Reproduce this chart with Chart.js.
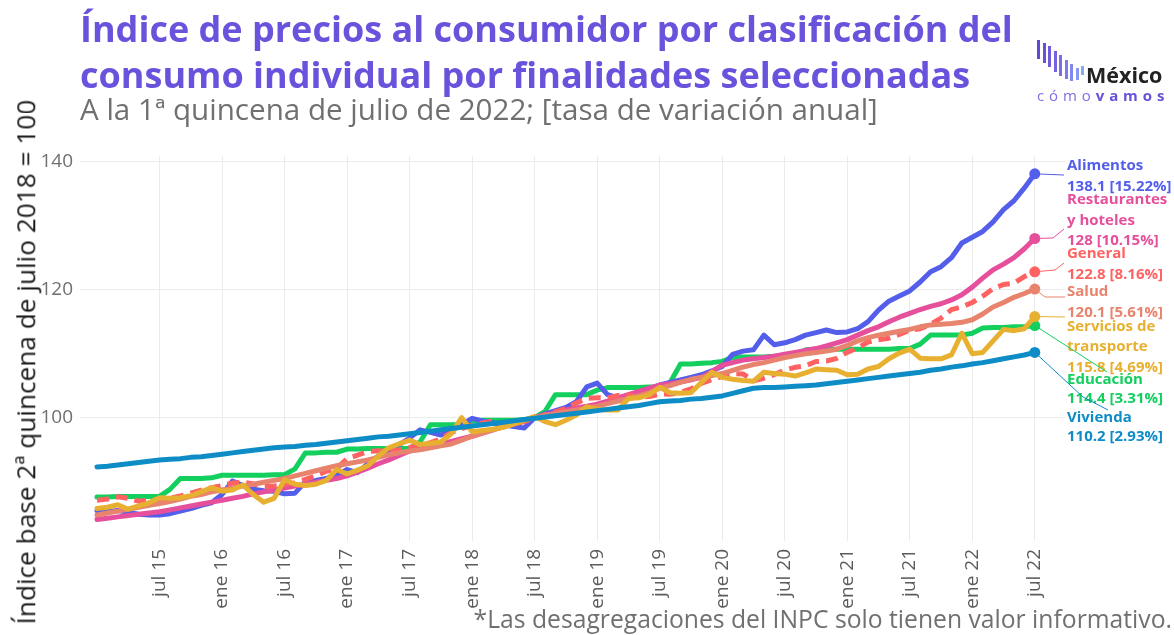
<!DOCTYPE html>
<html><head><meta charset="utf-8">
<script src="https://cdn.jsdelivr.net/npm/chart.js@4.4.1/dist/chart.umd.min.js"></script>
<style>
html,body{margin:0;padding:0;background:#fff;}
#wrap{position:relative;width:1174px;height:635px;overflow:hidden;font-family:"Open Sans",sans-serif;}
#c{position:absolute;left:0;top:0;}
.t{position:absolute;white-space:nowrap;line-height:1;}
.bar{position:absolute;width:3px;}
</style></head>
<body>
<div id="wrap">
<canvas id="c" width="1174" height="635"></canvas>
<div class="t" id="t1" style="color:#6953dc;font-weight:700;left:80px;">Índice de precios al consumidor por clasificación del</div>
<div class="t" id="t2" style="color:#6953dc;font-weight:700;left:80px;">consumo individual por finalidades seleccionadas</div>
<div class="t" id="sub" style="color:#707070;left:80px;">A la 1ª quincena de julio de 2022; [tasa de variación anual]</div>
<div class="t" id="foot" style="color:#707070;">*Las desagregaciones del INPC solo tienen valor informativo.</div>
<div class="t" id="ytitle" style="color:#1a1a1a;transform-origin:50% 50%;">Índice base 2ª quincena de julio 2018 = 100</div>
<div id="logo"></div>
<div class="t" id="mx" style="color:#222;font-weight:700;font-size:21.5px;left:1086px;top:64px;">México</div>
<div class="t" id="cv" style="font-size:15px;left:1037px;top:88px;letter-spacing:4.9px;"><span style="color:#7d70e0;">cómo</span><span style="color:#6a50d8;font-weight:700;">vamos</span></div>
</div>
<script>
// ---------- categories ----------
const months = [
 "ene 15","feb 15","mar 15","abr 15","may 15","jun 15","jul 15","ago 15","sep 15","oct 15","nov 15","dic 15",
 "ene 16","feb 16","mar 16","abr 16","may 16","jun 16","jul 16","ago 16","sep 16","oct 16","nov 16","dic 16",
 "ene 17","feb 17","mar 17","abr 17","may 17","jun 17","jul 17","ago 17","sep 17","oct 17","nov 17","dic 17",
 "ene 18","feb 18","mar 18","abr 18","may 18","jun 18","jul 18","ago 18","sep 18","oct 18","nov 18","dic 18",
 "ene 19","feb 19","mar 19","abr 19","may 19","jun 19","jul 19","ago 19","sep 19","oct 19","nov 19","dic 19",
 "ene 20","feb 20","mar 20","abr 20","may 20","jun 20","jul 20","ago 20","sep 20","oct 20","nov 20","dic 20",
 "ene 21","feb 21","mar 21","abr 21","may 21","jun 21","jul 21","ago 21","sep 21","oct 21","nov 21","dic 21",
 "ene 22","feb 22","mar 22","abr 22","may 22","jun 22","jul 22"];
const tickLabels = ["jul 15","ene 16","jul 16","ene 17","jul 17","ene 18","jul 18","ene 19","jul 19","ene 20","jul 20","ene 21","jul 21","ene 22","jul 22"];
const yTicks = [100,120,140];

// ---------- series ----------
const alimentos = [
 85.5,85.3,85.5,85.2,84.9,84.8,84.8,85.0,85.4,85.8,86.3,86.7,
 88.0,90.1,89.4,88.8,88.6,88.5,88.1,88.2,90.0,90.2,90.5,91.0,
 91.9,91.4,92.8,94.0,95.0,95.8,96.8,98.1,97.7,97.3,98.0,98.9,
 99.9,99.5,99.2,98.9,98.6,98.4,100.0,100.6,101.1,101.6,102.5,104.8,
 105.4,103.6,103.1,103.4,103.9,104.5,105.1,105.5,105.9,106.3,106.7,107.3,
 108.0,109.9,110.4,110.6,112.9,111.4,111.7,112.2,112.9,113.3,113.7,113.3,
 113.4,113.9,115.0,116.8,118.2,119.0,119.8,121.2,122.8,123.6,125.0,127.3,
 128.2,129.1,130.6,132.5,133.9,135.9,138.1];
const restaurantes = [
 84.1,84.3,84.5,84.7,84.9,85.1,85.3,85.6,85.9,86.2,86.5,86.8,
 87.1,87.4,87.7,88.1,88.4,88.7,89.0,89.3,89.6,89.9,90.2,90.5,
 90.9,91.5,92.1,92.8,93.4,94.1,94.8,95.2,95.6,95.9,96.3,96.7,
 97.1,97.6,98.1,98.6,99.1,99.5,100.0,100.4,100.8,101.2,101.5,101.8,
 102.1,102.6,103.1,103.6,104.1,104.6,105.1,105.3,105.6,105.9,106.3,107.2,
 108.2,108.6,109.0,109.2,109.4,109.6,109.9,110.2,110.5,110.8,111.2,111.7,
 112.2,112.9,113.6,114.2,115.0,115.7,116.3,116.9,117.4,117.8,118.4,119.2,
 120.4,121.8,123.1,124.0,125.0,126.4,128.0];
const general = [
 87.11,87.28,87.63,87.40,86.96,87.11,87.24,87.42,87.76,88.20,88.68,89.05,
 89.39,89.78,89.91,89.63,89.23,89.32,89.56,89.81,90.36,90.91,91.62,92.04,
 93.60,94.14,94.72,94.84,94.73,94.96,95.32,95.79,96.09,96.70,97.70,98.27,
 98.80,99.17,99.49,99.15,98.99,99.38,99.91,100.49,100.92,101.44,102.30,103.02,
 103.11,103.08,103.48,103.53,103.23,103.30,103.69,103.67,103.94,104.50,105.35,105.93,
 106.45,106.89,106.84,105.76,106.16,106.74,107.44,107.87,108.11,108.77,108.86,109.27,
 110.21,110.91,111.82,112.19,112.42,113.02,113.68,113.90,114.60,115.56,116.88,117.31,
 118.00,118.98,120.16,120.81,121.02,122.04,122.8];
const salud = [
 84.8,85.1,85.4,85.7,86.0,86.3,86.6,86.9,87.3,87.7,88.0,88.4,
 88.7,89.0,89.3,89.6,89.9,90.2,90.5,90.9,91.3,91.7,92.1,92.5,
 92.8,93.1,93.4,93.8,94.2,94.5,94.8,95.0,95.3,95.6,95.9,96.5,
 97.1,97.6,98.1,98.6,99.1,99.6,100.0,100.3,100.6,100.9,101.2,101.5,
 101.8,102.2,102.6,103.0,103.4,103.9,104.6,105.0,105.5,106.0,106.3,106.6,
 106.9,107.4,107.9,108.3,108.6,109.0,109.4,109.7,110.0,110.2,110.4,110.7,
 111.3,112.0,112.5,112.9,113.2,113.5,113.8,114.2,114.5,114.6,114.7,114.9,
 115.3,116.2,117.3,118.0,118.8,119.4,120.1];
const transporte = [
 85.8,86.0,86.4,85.7,86.2,86.7,87.5,87.4,87.5,87.8,88.4,89.1,
 88.5,88.7,89.5,88.0,86.8,87.4,90.3,89.6,89.4,89.6,90.2,91.9,
 91.2,91.8,92.5,94.0,95.3,95.9,96.5,95.8,96.0,96.2,97.5,100.0,
 97.8,98.0,98.2,98.5,99.0,99.6,100.2,99.4,98.9,99.6,100.4,101.7,
 101.3,101.2,101.2,103.0,103.1,103.6,104.75,103.9,103.8,103.9,105.5,107.1,
 106.3,106.0,105.8,105.7,107.1,106.9,106.8,106.5,107.0,107.6,107.5,107.4,
 106.7,106.8,107.6,108.0,109.2,110.1,110.7,109.3,109.2,109.2,109.8,113.2,
 110.0,110.2,112.0,113.8,113.6,113.9,115.8];
const educacion = [
 87.6,87.6,87.7,87.7,87.7,87.7,87.7,88.8,90.5,90.5,90.5,90.6,
 91.0,91.0,91.0,91.0,91.0,91.1,91.1,92.0,94.5,94.5,94.6,94.6,
 95.1,95.1,95.2,95.2,95.2,95.2,95.2,96.2,98.9,98.9,98.9,98.9,
 99.5,99.6,99.6,99.6,99.6,99.7,100.0,101.0,103.6,103.6,103.6,103.6,
 104.3,104.7,104.7,104.7,104.7,104.8,104.8,105.5,108.4,108.4,108.5,108.6,
 108.8,109.4,109.5,109.5,109.5,109.6,109.6,109.7,110.6,110.7,110.7,110.7,
 110.7,110.7,110.7,110.7,110.7,110.8,110.8,111.5,112.9,112.9,112.9,112.9,
 113.2,114.0,114.1,114.1,114.2,114.2,114.4];
const vivienda = [
 92.3,92.4,92.6,92.8,93.0,93.2,93.4,93.5,93.6,93.8,93.9,94.1,
 94.3,94.5,94.7,94.9,95.1,95.3,95.4,95.5,95.7,95.8,96.0,96.2,
 96.4,96.6,96.8,97.0,97.1,97.3,97.5,97.7,97.9,98.1,98.3,98.5,
 98.7,98.9,99.1,99.3,99.5,99.7,99.9,100.1,100.3,100.5,100.7,100.9,
 101.1,101.3,101.5,101.7,101.9,102.2,102.5,102.6,102.7,102.9,103.0,103.2,
 103.4,103.8,104.2,104.6,104.7,104.7,104.8,104.9,105.0,105.1,105.3,105.5,
 105.7,105.9,106.1,106.3,106.5,106.7,106.9,107.1,107.4,107.6,107.9,108.1,
 108.4,108.6,108.9,109.2,109.5,109.8,110.2];

const seriesNames = ["Alimentos","Restaurantes y hoteles","General","Salud","Servicios de transporte","Educación","Vivienda"];
const seriesValues = [alimentos,restaurantes,general,salud,transporte,educacion,vivienda];
const annualRates = ["15.22%","10.15%","8.16%","5.61%","4.69%","3.31%","2.93%"];
const lastValueText = ["138.1","128","122.8","120.1","115.8","114.4","110.2"];

// ---------- styles / layout ----------
const colors = ["#535eeb","#e64f9c","#ff6262","#e8836d","#e8b030","#12cf5e","#0e8cc6"];
const drawOrder = [5,4,3,2,1,6,0];
const labelLayout = [
 {lines:["Alimentos"], y:[166], vy:187, path:[[1064,175]]},
 {lines:["Restaurantes","y hoteles"], y:[200,221], vy:241, path:[[1053,238],[1064,229]]},
 {lines:["General"], y:[254], vy:275, path:[[1055,270],[1064,263]]},
 {lines:["Salud"], y:[292], vy:313, path:[[1045,297],[1065,297]]},
 {lines:["Servicios de","transporte"], y:[327,347], vy:368, path:[[1065,317]]},
 {lines:["Educación"], y:[380], vy:399, path:[[1107,372]]},
 {lines:["Vivienda"], y:[418], vy:437, path:[[1083,397],[1108,410]]}
];
const labelX = 1067;

// ---------- text fitting ----------
function fit(el, targetW, fs){
  el.style.fontSize = fs+'px';
  const w = el.getBoundingClientRect().width;
  const nfs = fs*targetW/w;
  el.style.fontSize = nfs+'px';
  return nfs;
}
function placeBaseline(el, fs, baseline){ el.style.top = (baseline - 0.888*fs)+'px'; }
const t1=document.getElementById('t1'), t2=document.getElementById('t2');
const tfs = fit(t1, 933, 32);
t2.style.fontSize = tfs+'px';
placeBaseline(t1, tfs, 43); placeBaseline(t2, tfs, 89);
const sub=document.getElementById('sub'); const sfs=fit(sub, 798, 24); placeBaseline(sub, sfs, 120);
const foot=document.getElementById('foot'); const ffs=fit(foot, 699, 22); placeBaseline(foot, ffs, 629);
foot.style.left = (1172 - foot.getBoundingClientRect().width)+'px';
const yt=document.getElementById('ytitle'); const yfs=fit(yt, 525, 22);
const yw = yt.getBoundingClientRect().width;
yt.style.left = (25 - yw/2)+'px'; yt.style.top = (362 - yfs/2)+'px';
yt.style.transform = 'rotate(-90deg)';

// logo bars (decoration)
const barTops=[40,43,46,51,55,60,64,68,66], barBots=[59,63,67,72,76,79,81,80,75];
const barCols=["#6348d4","#6951d8","#6e5bdc","#7365e0","#7870e4","#7d7ce8","#8289ec","#8798f0","#8ba8f3"];
const logo=document.getElementById('logo');
barTops.forEach((tp,i)=>{const d=document.createElement('div');d.className='bar';
 d.style.left=(1037+5.5*i)+'px';d.style.top=tp+'px';d.style.height=(barBots[i]-tp)+'px';d.style.background=barCols[i];logo.appendChild(d);});

// ---------- chart ----------
Chart.defaults.font.family = '"Open Sans", sans-serif';
const endLabels = {
  id:'endLabels',
  afterDatasetsDraw(chart){
    const ctx = chart.ctx;
    chart.data.datasets.forEach((ds,i)=>{
      const meta = chart.getDatasetMeta(i);
      const pt = meta.data[meta.data.length-1];
      const L = labelLayout[i];
      ctx.save();
      ctx.strokeStyle = ds.borderColor; ctx.lineWidth = 1;
      ctx.beginPath(); ctx.moveTo(pt.x, pt.y);
      L.path.forEach(p=>ctx.lineTo(p[0],p[1]));
      ctx.stroke();
      ctx.fillStyle = ds.borderColor;
      ctx.font = 'bold 15px "Open Sans"';
      ctx.textBaseline = 'middle'; ctx.textAlign = 'left';
      L.lines.forEach((t,k)=>ctx.fillText(t, labelX, L.y[k]));
      ctx.fillText(lastValueText[i]+' ['+annualRates[i]+']', labelX, L.vy);
      ctx.restore();
    });
  }
};

const datasets = seriesNames.map((name,i)=>{
  const vals = seriesValues[i];
  const last = vals.length-1;
  return {
    label:name,
    data: vals.map((v,k)=>({x:k,y:v})),
    borderColor: colors[i], backgroundColor: colors[i],
    borderWidth: 5, borderDash: name==="General" ? [12,7] : [],
    borderJoinStyle:'round', borderCapStyle: name==="General" ? 'butt':'round',
    tension:0, fill:false, order: drawOrder[i],
    pointRadius: ctx => ctx.dataIndex===last ? 5.5 : 0,
    pointHoverRadius: 0, pointBorderWidth:0,
    pointBackgroundColor: colors[i]
  };
});

new Chart(document.getElementById('c'), {
  type:'line',
  data:{datasets},
  options:{
    responsive:false, animation:false, devicePixelRatio:1,
    layout:{padding:{top:156,right:109,bottom:0,left:0}},
    plugins:{legend:{display:false},tooltip:{enabled:false}},
    scales:{
      x:{type:'linear', min:-1.63, max:92.9,
         afterBuildTicks: s => { s.ticks = tickLabels.map(l=>({value: months.indexOf(l)})); },
         afterFit: s => { s.height = 94; },
         ticks:{autoSkip:false, maxRotation:90, minRotation:90, padding:8, color:'#5c5c5c',
                font:{size:19}, callback: v => months[v]},
         grid:{color:'#ebebeb', lineWidth:1, drawTicks:false},
         border:{display:false}},
      y:{min:80.73, max:140.89,
         afterBuildTicks: s => { s.ticks = yTicks.map(v=>({value:v})); },
         afterFit: s => { s.width = 80; },
         ticks:{padding:7, color:'#707070', font:{size:19}},
         grid:{color:'#ebebeb', lineWidth:1, drawTicks:false},
         border:{display:false}}
    }
  },
  plugins:[endLabels]
});
</script>
</body></html>
